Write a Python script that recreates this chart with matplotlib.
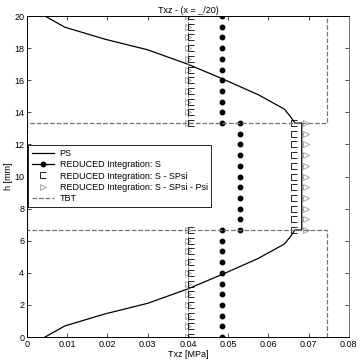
import matplotlib
matplotlib.use("Agg")
import matplotlib.pyplot as plt
from matplotlib.path import Path
from matplotlib.lines import Line2D

# PS curve, bottom layer, middle layer, top layer
ps_h_bot = [0.0, 0.69, 1.44, 2.1, 3.0, 3.9, 4.9, 5.8, 6.3, 6.67]
ps_x_bot = [0.0045, 0.0094, 0.0194, 0.030, 0.040, 0.0485, 0.0575, 0.064, 0.0656, 0.0666]
ps_h_mid = [6.67, 6.67, 13.33, 13.33]
ps_x_mid = [0.0666, 0.0683, 0.0683, 0.0666]
ps_h_top = [13.33, 13.7, 14.2, 15.1, 16.1, 17.0, 17.9, 18.56, 19.31, 20.0]
ps_x_top = [0.0666, 0.0656, 0.064, 0.0575, 0.0485, 0.040, 0.030, 0.0194, 0.0094, 0.0045]

# node heights of each layer
h_bot = [0.0, 0.67, 1.33, 2.0, 2.67, 3.33, 4.0, 4.67, 5.33, 6.0, 6.67]
h_mid = [6.67, 7.33, 8.0, 8.67, 9.33, 10.0, 10.67, 11.33, 12.0, 12.67, 13.33]
h_top = [13.33, 14.0, 14.67, 15.33, 16.0, 16.67, 17.33, 18.0, 18.67, 19.33, 20.0]

# reduced integration results (outer layers / middle layer)
s_outer, s_mid = 0.0484, 0.0530
spsi_outer, spsi_mid = 0.0407, 0.0663
psi_outer, psi_mid = 0.0400, 0.0693

# TBT
tbt_h = [0.0, 6.67, 6.67, 13.33, 13.33, 20.0]
tbt_x = [0.0745, 0.0745, 0.0, 0.0, 0.0745, 0.0745]

bracket = Path([(0.6, 0.6), (-0.6, 0.6), (-0.6, -0.6), (0.6, -0.6)],
               [Path.MOVETO, Path.LINETO, Path.LINETO, Path.LINETO])

plt.rcParams['font.family'] = ['Liberation Sans', 'DejaVu Sans']
fig = plt.figure(figsize=(3.6, 3.63), dpi=100)
ax = fig.add_axes([0.075, 0.0716, 0.894, 0.884])

ax.plot(ps_x_bot + ps_x_mid + ps_x_top, ps_h_bot + ps_h_mid + ps_h_top, color='black', lw=0.9)

for hs, xv in [(h_bot, s_outer), (h_mid, s_mid), (h_top, s_outer)]:
    ax.plot([xv] * len(hs), hs, ls='none', marker='o', ms=3.2, color='black')

psi_x = [psi_outer] * 11 + [psi_mid] * 11 + [psi_outer] * 11
spsi_x = [spsi_outer] * 11 + [spsi_mid] * 11 + [spsi_outer] * 11
hh = h_bot + h_mid + h_top
ax.plot([psi_outer] * 11, h_bot, color='0.55', lw=0.7, ls='--')
ax.plot([psi_outer] * 11, h_top, color='0.55', lw=0.7, ls='--')
ax.plot(psi_x, hh, ls='none', marker='>', ms=4, mfc='none', mec='0.6', mew=0.6)
ax.plot(spsi_x, hh, ls='none', marker=bracket, ms=4.5, mfc='none', mec='black', mew=0.6)

ax.plot(tbt_x, tbt_h, color='0.45', lw=0.9, ls='--')

ax.set_xlim(0, 0.08)
ax.set_ylim(0, 20)
ax.set_xticks([0, 0.01, 0.02, 0.03, 0.04, 0.05, 0.06, 0.07, 0.08])
ax.set_xticklabels(['0', '0.01', '0.02', '0.03', '0.04', '0.05', '0.06', '0.07', '0.08'])
ax.set_yticks(range(0, 21, 2))
ax.tick_params(direction='in', top=True, right=True, labelsize=6.5, length=3, width=0.5, pad=2)
for s in ax.spines.values():
    s.set_linewidth(0.7)
ax.spines['right'].set_color('0.45')

ax.set_title('Txz - (x = _/20)', fontsize=6.5, pad=2)
ax.set_xlabel('Txz [MPa]', fontsize=6.5, labelpad=1)
ax.set_ylabel('h [mm]', fontsize=6.5, labelpad=1)

handles = [
    Line2D([], [], color='black', lw=0.9),
    Line2D([], [], color='black', lw=0.9, marker='o', ms=3.2),
    Line2D([], [], ls='none', marker=bracket, ms=4.5, mfc='none', mec='black', mew=0.6),
    Line2D([], [], ls='none', marker='>', ms=4, mfc='none', mec='0.6', mew=0.6),
    Line2D([], [], color='0.45', lw=0.9, ls='--'),
]
labels = ['PS', 'REDUCED Integration: S', 'REDUCED Integration: S - SPsi',
          'REDUCED Integration: S - SPsi - Psi', 'TBT']
leg = ax.legend(handles, labels, loc='upper left', bbox_to_anchor=(0.003, 0.597),
                borderaxespad=0, fontsize=6.5, fancybox=False, framealpha=1,
                edgecolor='black', handlelength=2.5, labelspacing=0.25,
                borderpad=0.4, handletextpad=0.6)
leg.get_frame().set_linewidth(0.6)

fig.savefig('out.png', dpi=100)
